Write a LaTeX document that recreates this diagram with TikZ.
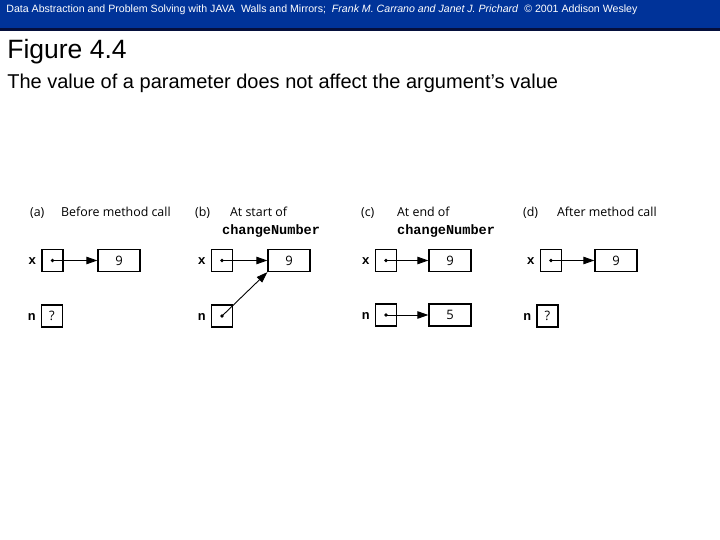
\documentclass[tikz,border=0pt]{standalone}
\usepackage{fontspec}
\setmainfont{Liberation Sans}
\newfontfamily\figfont{Open Sans}
\newfontfamily\codefont{Liberation Mono}
\usetikzlibrary{arrows.meta}
\definecolor{bandblue}{RGB}{0,51,153}
\definecolor{banddark}{RGB}{5,15,60}

\tikzset{every picture/.style={line width=0.75pt}}
\tikzset{
  cell/.style={draw,line width=1.3pt,minimum width=21pt,minimum height=22pt,inner sep=0pt,font=\figfont\fontsize{13}{14}\selectfont},
  valcell/.style={cell,minimum width=42pt},
  varname/.style={anchor=base east,inner sep=0.75pt,xshift=-4pt,yshift=-4pt,font=\codefont\bfseries\fontsize{13}{14}\selectfont},
  caption/.style={anchor=base west,inner sep=0.75pt,font=\figfont\fontsize{12.4}{14}\selectfont},
  codecap/.style={anchor=base west,inner sep=0.75pt,font=\codefont\bfseries\fontsize{13.6}{15}\selectfont},
  ptr/.style={line width=0.9pt,-{Triangle[length=11pt,width=7.5pt]}},
  dot/.style={circle,fill,inner sep=0pt,minimum size=3.6pt}
}

\begin{document}
\begin{tikzpicture}[x=1pt,y=1pt,yscale=-1,xscale=1]
    \useasboundingbox (0,0) rectangle (720,540);
    %Header band
    \fill[bandblue] (0,0) rectangle (720,28);
    \fill[banddark] (0,28) rectangle (720,31);
    % Text Node
    \node (hdr) at (6,10) [anchor=west][inner sep=0pt] [font=\fontsize{10.6}{12}\selectfont,text=white]
      {Data Abstraction and Problem Solving with JAVA\ \ Walls and Mirrors;\ \ \textit{Frank M. Carrano and Janet J. Prichard}\ \ \copyright\ 2001 Addison Wesley};
    % Text Node
    \node (fig) at (7,52) [anchor=west][inner sep=0pt] [font=\fontsize{26.5}{28}\selectfont] {Figure 4.4};
    % Text Node
    \node (sub) at (7,83) [anchor=west][inner sep=0pt] [font=\fontsize{20}{22}\selectfont] {The value of a parameter does not affect the argument’s value};

    %Panel (a)
    \node (capa) at (29,217) [caption] {(a)};
    \node (capat) at (60,217) [caption] {Before method call};
    \node (xa) at (52.5,260.5) [cell] {};
    \node (va) at (119,260.5) [valcell] {9};
    \node (na) at (52,316) [cell] {?};
    \node at (xa.west) [varname] {x};
    \node at (na.west) [varname] {n};
    \node (da) at (xa.center) [dot] {};
    \draw[ptr] (da.center) -- (va.west);

    %Panel (b)
    \node (capb) at (194,217) [caption] {(b)};
    \node (capbt) at (229,217) [caption] {At start of};
    \node (capbc) at (221,234) [codecap] {changeNumber};
    \node (xb) at (222,260.5) [cell] {};
    \node (vb) at (289,260.5) [valcell] {9};
    \node (nb) at (222,316) [cell] {};
    \node at (xb.west) [varname] {x};
    \node at (nb.west) [varname] {n};
    \node (dxb) at (xb.center) [dot] {};
    \node (dnb) at (nb.center) [dot] {};
    \draw[ptr] (dxb.center) -- (vb.west);
    \draw[ptr] (dnb.center) -- (vb.south west);

    %Panel (c)
    \node (capc) at (360,217) [caption] {(c)};
    \node (capct) at (396,217) [caption] {At end of};
    \node (capcc) at (396,234) [codecap] {changeNumber};
    \node (xc) at (386,260.5) [cell] {};
    \node (vc) at (450,260.5) [valcell] {9};
    \node (nc) at (386,315) [cell] {};
    \node (wc) at (450,315) [valcell] {5};
    \node at (xc.west) [varname] {x};
    \node at (nc.west) [varname] {n};
    \node (dxc) at (xc.center) [dot] {};
    \node (dnc) at (nc.center) [dot] {};
    \draw[ptr] (dxc.center) -- (vc.west);
    \draw[ptr] (dnc.center) -- (wc.west);

    %Panel (d)
    \node (capd) at (522,217) [caption] {(d)};
    \node (capdt) at (556,217) [caption] {After method call};
    \node (xd) at (551,260.5) [cell] {};
    \node (vd) at (616,260.5) [valcell] {9};
    \node (nd) at (547.5,316) [cell] {?};
    \node at (xd.west) [varname] {x};
    \node at (nd.west) [varname] {n};
    \node (dd) at (xd.center) [dot] {};
    \draw[ptr] (dd.center) -- (vd.west);
\end{tikzpicture}
\end{document}
